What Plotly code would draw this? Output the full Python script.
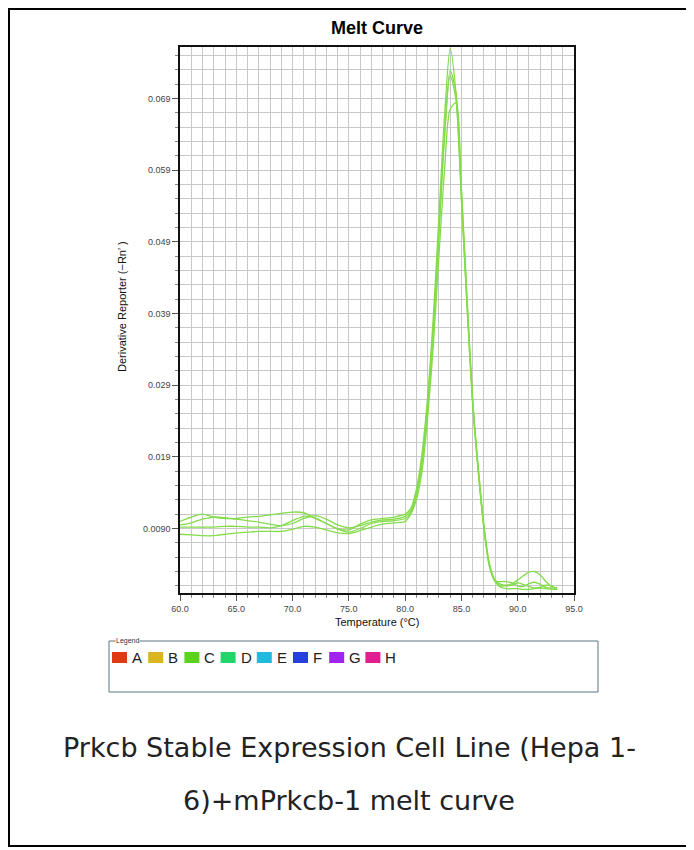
import plotly.graph_objects as go

# ---------------- data ----------------
temps = [60, 61, 62, 63, 64, 65, 66, 67, 68, 69, 70, 71, 72, 73, 74, 75, 76, 77, 78, 79, 80,
         80.5, 81, 81.5, 82, 82.5, 83, 83.5, 84, 84.5, 85, 85.5, 86, 86.5, 87, 87.5, 88,
         88.5, 89, 89.5, 90, 90.5, 91, 91.5, 92, 92.5, 93, 93.5]

well_1 = [0.0100, 0.0106, 0.0110, 0.0106, 0.0104, 0.0104, 0.0106, 0.0107, 0.0109, 0.0111, 0.0113,
          0.0112, 0.0104, 0.0097, 0.0090, 0.0088, 0.0096, 0.0102, 0.0104, 0.0106, 0.0110,
          0.0118, 0.0145, 0.0195, 0.0275, 0.0385, 0.0525, 0.0665, 0.0760, 0.0700, 0.0550,
          0.0400, 0.0265, 0.0175, 0.0095, 0.0040, 0.0018,
          0.0012, 0.0011, 0.0013, 0.0018, 0.0024, 0.0029, 0.0030, 0.0025, 0.0016, 0.0009, 0.0006]

well_2 = [0.0095, 0.0098, 0.0103, 0.0106, 0.0105, 0.0103, 0.0101, 0.0099, 0.0096, 0.0094, 0.0097,
          0.0104, 0.0108, 0.0103, 0.0095, 0.0091, 0.0094, 0.0099, 0.0102, 0.0103, 0.0107,
          0.0115, 0.0140, 0.0188, 0.0265, 0.0370, 0.0505, 0.0640, 0.0729, 0.0700, 0.0565,
          0.0410, 0.0270, 0.0172, 0.0092, 0.0038, 0.0017,
          0.0016, 0.0016, 0.0014, 0.0010, 0.0009, 0.0013, 0.0015, 0.0012, 0.0008, 0.0007, 0.0008]

well_3 = [0.0092, 0.0092, 0.0092, 0.0092, 0.0093, 0.0093, 0.0092, 0.0092, 0.0091, 0.0094, 0.0101,
          0.0107, 0.0105, 0.0097, 0.0089, 0.0085, 0.0090, 0.0097, 0.0100, 0.0101, 0.0104,
          0.0112, 0.0135, 0.0180, 0.0258, 0.0365, 0.0500, 0.0635, 0.0722, 0.0690, 0.0550,
          0.0400, 0.0262, 0.0168, 0.0090, 0.0036, 0.0016,
          0.0010, 0.0010, 0.0011, 0.0014, 0.0012, 0.0009, 0.0007, 0.0008, 0.0011, 0.0010, 0.0005]

well_4 = [0.0082, 0.0081, 0.0080, 0.0080, 0.0082, 0.0084, 0.0085, 0.0086, 0.0086, 0.0086, 0.0089,
          0.0093, 0.0092, 0.0088, 0.0084, 0.0083, 0.0087, 0.0092, 0.0096, 0.0098, 0.0100,
          0.0110, 0.0130, 0.0170, 0.0245, 0.0345, 0.0470, 0.0590, 0.0675, 0.0684, 0.0560,
          0.0410, 0.0268, 0.0170, 0.0091, 0.0037, 0.0016,
          0.0008, 0.0006, 0.0006, 0.0006, 0.0005, 0.0005, 0.0006, 0.0007, 0.0006, 0.0005, 0.0005]

wells = [well_1, well_2, well_3, well_4]

x_tick_vals = [60, 65, 70, 75, 80, 85, 90, 95]
x_tick_text = ["60.0", "65.0", "70.0", "75.0", "80.0", "85.0", "90.0", "95.0"]
y_tick_vals = [0.009, 0.019, 0.029, 0.039, 0.049, 0.059, 0.069]
y_tick_text = ["0.0090", "0.019", "0.029", "0.039", "0.049", "0.059", "0.069"]

legend_labels = ["A", "B", "C", "D", "E", "F", "G", "H"]
legend_colors = ["#e03a12", "#d9b520", "#5ad21e", "#22d46a", "#22b8e0", "#2540dc", "#a024ee", "#e02090"]

title_text = "Melt Curve"
x_title = "Temperature (°C)"
y_title = "Derivative Reporter (−Rn′ )"
caption_1 = "Prkcb Stable Expression Cell Line (Hepa 1-"
caption_2 = "6)+mPrkcb-1 melt curve"

# ---------------- layout helpers ----------------
OFF = 8                       # page body margin
W, H = 694 - OFF, 850 - OFF
PLOT_X0, PLOT_X1 = 180 - OFF, 574 - OFF   # plot area in figure px
PLOT_Y0, PLOT_Y1 = 47 - OFF, 593 - OFF
L, R, T, B = PLOT_X0, W - PLOT_X1, PLOT_Y0, H - PLOT_Y1
PW, PH = PLOT_X1 - PLOT_X0, PLOT_Y1 - PLOT_Y0


def xp(page_px):
    return (page_px - OFF - PLOT_X0) / PW


def yp(page_py):
    return (PLOT_Y1 - (page_py - OFF)) / PH


fig = go.Figure()
for w in wells:
    fig.add_trace(go.Scatter(x=temps, y=w, mode="lines",
                             line=dict(color="#84dc4a", width=1.3, shape="spline", smoothing=0.8),
                             showlegend=False, hoverinfo="skip"))

axis_font = dict(family="Arial, Liberation Sans, sans-serif", size=9, color="#444444")

fig.update_xaxes(range=[60, 95], tickmode="array", tickvals=x_tick_vals, ticktext=x_tick_text,
                 tickfont=axis_font, ticks="outside", ticklen=6, tickcolor="#555555",
                 showgrid=True, gridcolor="#c8c8c8", gridwidth=1,
                 minor=dict(dtick=1, tick0=60, showgrid=True, gridcolor="#c8c8c8", gridwidth=1,
                            ticks="outside", ticklen=3, tickcolor="#888888"),
                 showline=True, linecolor="#111111", linewidth=1.5, mirror=True, zeroline=False)
fig.update_yaxes(range=[0, 0.0762], tickmode="array", tickvals=y_tick_vals, ticktext=y_tick_text,
                 tickfont=axis_font, ticks="outside", ticklen=6, tickcolor="#555555",
                 showgrid=True, gridcolor="#c8c8c8", gridwidth=1,
                 minor=dict(dtick=0.002, tick0=0.001, showgrid=True, gridcolor="#c8c8c8", gridwidth=1,
                            ticks="outside", ticklen=3, tickcolor="#888888"),
                 showline=True, linecolor="#111111", linewidth=1.5, mirror=True, zeroline=False)

shapes = []
annotations = []

# outer black frame
shapes.append(dict(type="rect", xref="paper", yref="paper", x0=xp(9), x1=xp(690), y0=yp(9), y1=yp(846),
                   line=dict(color="#000000", width=2), fillcolor="rgba(0,0,0,0)", layer="below"))

# titles
annotations.append(dict(text="<b>" + title_text + "</b>", xref="paper", yref="paper", x=0.5, y=yp(28),
                        showarrow=False, xanchor="center", yanchor="middle",
                        font=dict(family="Arial, Liberation Sans, sans-serif", size=18, color="#000000")))
annotations.append(dict(text=x_title, xref="paper", yref="paper", x=0.5, y=yp(622),
                        showarrow=False, xanchor="center", yanchor="middle",
                        font=dict(family="Arial, Liberation Sans, sans-serif", size=11, color="#111111")))
annotations.append(dict(text=y_title, xref="paper", yref="paper", x=xp(122), y=yp(307),
                        showarrow=False, xanchor="center", yanchor="middle", textangle=-90,
                        font=dict(family="Arial, Liberation Sans, sans-serif", size=11, color="#111111")))

# legend box
shapes.append(dict(type="rect", xref="paper", yref="paper", x0=xp(109), x1=xp(598), y0=yp(641), y1=yp(692),
                   line=dict(color="#5a7580", width=1), fillcolor="#ffffff"))
annotations.append(dict(text="Legend", xref="paper", yref="paper", x=xp(115), y=yp(641),
                        showarrow=False, xanchor="left", yanchor="middle", bgcolor="#ffffff",
                        borderpad=0,
                        font=dict(family="Arial, Liberation Sans, sans-serif", size=7, color="#333333")))
x_start, step = 112, 36.2
for i, (lab, col) in enumerate(zip(legend_labels, legend_colors)):
    x0 = x_start + i * step
    shapes.append(dict(type="rect", xref="paper", yref="paper", x0=xp(x0), x1=xp(x0 + 15),
                       y0=yp(652), y1=yp(663), line=dict(width=0), fillcolor=col))
    annotations.append(dict(text=lab, xref="paper", yref="paper", x=xp(x0 + 18), y=yp(657.5),
                            showarrow=False, xanchor="left", yanchor="middle",
                            font=dict(family="Arial, Liberation Sans, sans-serif", size=15, color="#222222")))

# caption
for txt, py in [(caption_1, 748), (caption_2, 800)]:
    annotations.append(dict(text=txt, xref="paper", yref="paper", x=xp(349), y=yp(py),
                            showarrow=False, xanchor="center", yanchor="middle",
                            font=dict(family="DejaVu Sans, sans-serif", size=27, color="#222222")))

fig.update_layout(width=W, height=H, autosize=False,
                  margin=dict(l=L, r=R, t=T, b=B, pad=0),
                  paper_bgcolor="#ffffff", plot_bgcolor="#ffffff",
                  shapes=shapes, annotations=annotations, showlegend=False)

fig.write_html("out.html")
